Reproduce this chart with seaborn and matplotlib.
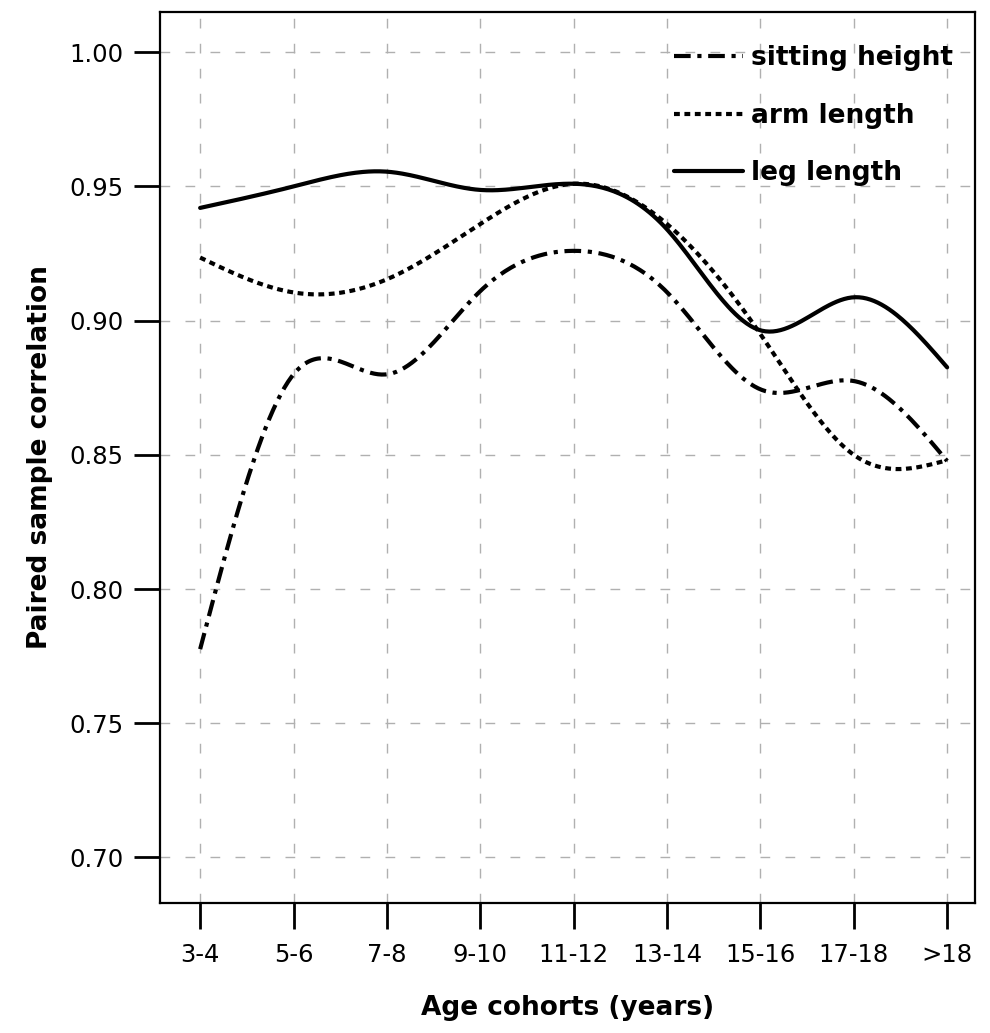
import numpy as np
import pandas as pd
import matplotlib
matplotlib.use('Agg')
import matplotlib.pyplot as plt
import seaborn as sns

sns.set_style('ticks')
plt.rcParams['font.family'] = ['DejaVu Sans']

# 数据
cohorts = ['3-4', '5-6', '7-8', '9-10', '11-12', '13-14', '15-16', '17-18', '>18']
sitting_height = [0.7776, 0.880, 0.880, 0.911, 0.926, 0.9106, 0.8744, 0.8775, 0.8477]
arm_length = [0.9235, 0.9105, 0.9154, 0.936, 0.951, 0.936, 0.895, 0.850, 0.848]
leg_length = [0.942, 0.950, 0.9555, 0.9487, 0.951, 0.934, 0.8964, 0.9087, 0.8826]
y_ticks = [0.70, 0.75, 0.80, 0.85, 0.90, 0.95, 1.00]


def natural_spline(x, y, xs):
    # natural cubic spline through the points
    x = np.asarray(x, float)
    y = np.asarray(y, float)
    n = len(x)
    h = np.diff(x)
    A = np.zeros((n, n))
    r = np.zeros(n)
    A[0, 0] = 1
    A[-1, -1] = 1
    for i in range(1, n - 1):
        A[i, i - 1] = h[i - 1]
        A[i, i] = 2 * (h[i - 1] + h[i])
        A[i, i + 1] = h[i]
        r[i] = 6 * ((y[i + 1] - y[i]) / h[i] - (y[i] - y[i - 1]) / h[i - 1])
    M = np.linalg.solve(A, r)
    idx = np.clip(np.searchsorted(x, xs) - 1, 0, n - 2)
    x0, x1 = x[idx], x[idx + 1]
    hh = x1 - x0
    t0 = x1 - xs
    t1 = xs - x0
    return (M[idx] * t0 ** 3 / (6 * hh) + M[idx + 1] * t1 ** 3 / (6 * hh)
            + (y[idx] / hh - M[idx] * hh / 6) * t0
            + (y[idx + 1] / hh - M[idx + 1] * hh / 6) * t1)


pos = np.arange(len(cohorts))
xs = np.linspace(0, len(cohorts) - 1, 400)

series = [
    ('sitting height', sitting_height, (0, (4.0, 1.6, 1.0, 1.6))),
    ('arm length', arm_length, (0, (1.4, 1.1))),
    ('leg length', leg_length, '-'),
]

fig = plt.figure(figsize=(9.9, 10.33), dpi=100)
ax = fig.add_axes([0.1616, 0.1258, 0.8234, 0.8626])

for name, vals, ls in series:
    df = pd.DataFrame({'x': xs, 'y': natural_spline(pos, vals, xs)})
    sns.lineplot(data=df, x='x', y='y', ax=ax, color='black', linewidth=3,
                 linestyle=ls, label=name)

ax.set_xlim(-0.43, 8.30)
ax.set_ylim(0.683, 1.015)
ax.set_xticks(pos)
ax.set_xticklabels(cohorts)
ax.set_yticks(y_ticks)
ax.set_yticklabels(['%.2f' % v for v in y_ticks])

ax.grid(True, color='#b0b0b0', linestyle=(0, (7, 11)), linewidth=1)
for sp in ax.spines.values():
    sp.set_visible(True)
    sp.set_linewidth(1.6)
    sp.set_color('black')

ax.tick_params(axis='both', direction='out', length=19, width=2, colors='black', labelsize=17.5)
ax.tick_params(axis='y', pad=7)
ax.tick_params(axis='x', pad=10)

ax.set_xlabel('Age cohorts (years)', fontsize=19, fontweight='bold', labelpad=20, color='black')
ax.set_ylabel('Paired sample correlation', fontsize=19, fontweight='bold', labelpad=12, color='black')

leg = ax.legend(loc='upper right', bbox_to_anchor=(1.0, 0.988), frameon=False,
                prop={'size': 19, 'weight': 'bold'}, handlelength=2.6,
                handletextpad=0.3, labelspacing=1.2, borderaxespad=0.45)
for t in leg.get_texts():
    t.set_color('black')

plt.savefig('out.png', dpi=100)
